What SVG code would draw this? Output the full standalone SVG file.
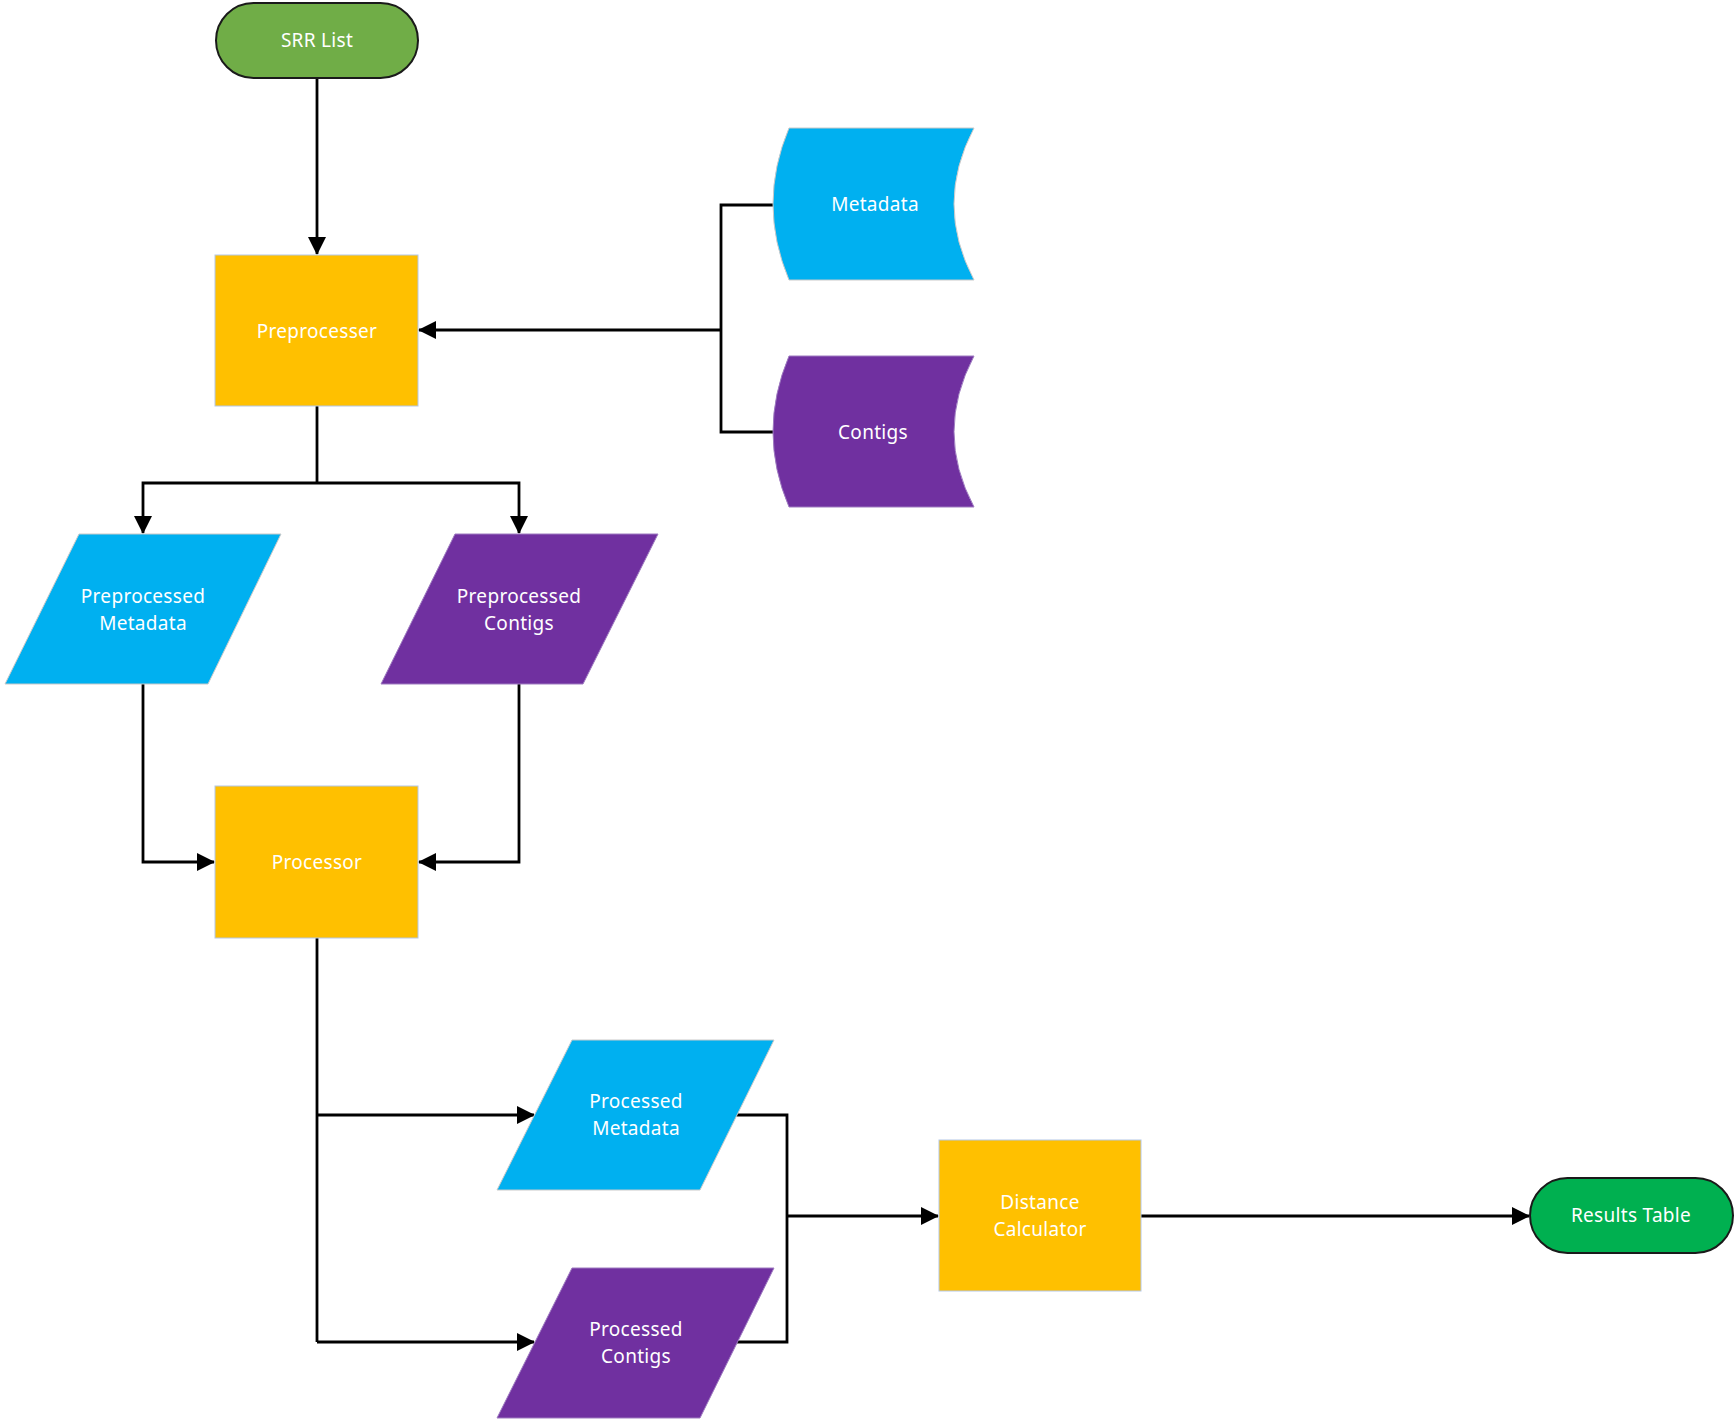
<svg xmlns="http://www.w3.org/2000/svg" width="1736" height="1422" viewBox="0 0 1736 1422">
<style>
.t{font-family:"Noto Sans","Open Sans",sans-serif;font-size:19px;letter-spacing:0.3px;fill:#fff;text-anchor:middle;dominant-baseline:central}
.c{fill:none;stroke:#000;stroke-width:2.8}
.box{fill:#FFC000;stroke:#B4C7E7;stroke-width:1}
.blue{fill:#00B0F0;stroke:#C9C9C9;stroke-width:1}
.purple{fill:#7030A0;stroke:#9E7BC0;stroke-width:1}
</style>
<defs>
<marker id="a" markerUnits="userSpaceOnUse" markerWidth="18" markerHeight="18" refX="17" refY="9" orient="auto">
<path d="M0,0 L18,9 L0,18 z" fill="#000"/>
</marker>
</defs>
<rect width="1736" height="1422" fill="#fff"/>
<g id="connectors">
<path class="c" d="M317,78 L317,254" marker-end="url(#a)"/>
<path class="c" d="M773,205 L721,205 L721,432 L773,432"/>
<path class="c" d="M721,330 L419,330" marker-end="url(#a)"/>
<path class="c" d="M317,406 L317,483"/>
<path class="c" d="M317,483 L143,483 L143,533" marker-end="url(#a)"/>
<path class="c" d="M317,483 L519,483 L519,533" marker-end="url(#a)"/>
<path class="c" d="M143,684 L143,862 L214,862" marker-end="url(#a)"/>
<path class="c" d="M519,684 L519,862 L419,862" marker-end="url(#a)"/>
<path class="c" d="M317,938 L317,1342"/>
<path class="c" d="M317,1115 L534,1115" marker-end="url(#a)"/>
<path class="c" d="M317,1342 L534,1342" marker-end="url(#a)"/>
<path class="c" d="M736,1115 L787,1115 L787,1342 L736,1342"/>
<path class="c" d="M787,1216 L938,1216" marker-end="url(#a)"/>
<path class="c" d="M1141,1216 L1529,1216" marker-end="url(#a)"/>
</g>
<g id="srr-list">
<rect x="216" y="3" width="202" height="75" rx="37.5" fill="#70AD47" stroke="#1a1a1a" stroke-width="2"/>
<text class="t" x="317" y="40">SRR List</text>
</g>
<g id="preprocesser">
<rect class="box" x="215" y="255" width="203" height="151"/>
<text class="t" x="317" y="331">Preprocesser</text>
</g>
<g id="metadata">
<path class="blue" d="M789,128 L974,128 Q934,204 974,280 L789,280 Q757,204 789,128 z"/>
<text class="t" x="875" y="204">Metadata</text>
</g>
<g id="contigs">
<path class="purple" d="M789,356 L974,356 Q934,432 974,507 L789,507 Q757,432 789,356 z"/>
<text class="t" x="873" y="432">Contigs</text>
</g>
<g id="preprocessed-metadata">
<path class="blue" d="M79,534 L281,534 L208,684 L5,684 z"/>
<text class="t" x="143" y="596">Preprocessed</text>
<text class="t" x="143" y="623">Metadata</text>
</g>
<g id="preprocessed-contigs">
<path class="purple" d="M455,534 L658,534 L583,684 L381,684 z"/>
<text class="t" x="519" y="596">Preprocessed</text>
<text class="t" x="519" y="623">Contigs</text>
</g>
<g id="processor">
<rect class="box" x="215" y="786" width="203" height="152"/>
<text class="t" x="317" y="862">Processor</text>
</g>
<g id="processed-metadata">
<path class="blue" d="M572,1040 L774,1040 L700,1190 L497,1190 z"/>
<text class="t" x="636" y="1101">Processed</text>
<text class="t" x="636" y="1128">Metadata</text>
</g>
<g id="processed-contigs">
<path class="purple" d="M572,1268 L774,1268 L700,1418 L497,1418 z"/>
<text class="t" x="636" y="1329">Processed</text>
<text class="t" x="636" y="1356">Contigs</text>
</g>
<g id="distance-calculator">
<rect class="box" x="939" y="1140" width="202" height="151"/>
<text class="t" x="1040" y="1202">Distance</text>
<text class="t" x="1040" y="1229">Calculator</text>
</g>
<g id="results-table">
<rect x="1530" y="1178" width="203" height="75" rx="37.5" fill="#00B050" stroke="#1a1a1a" stroke-width="2"/>
<text class="t" x="1631" y="1215">Results Table</text>
</g>
</svg>
